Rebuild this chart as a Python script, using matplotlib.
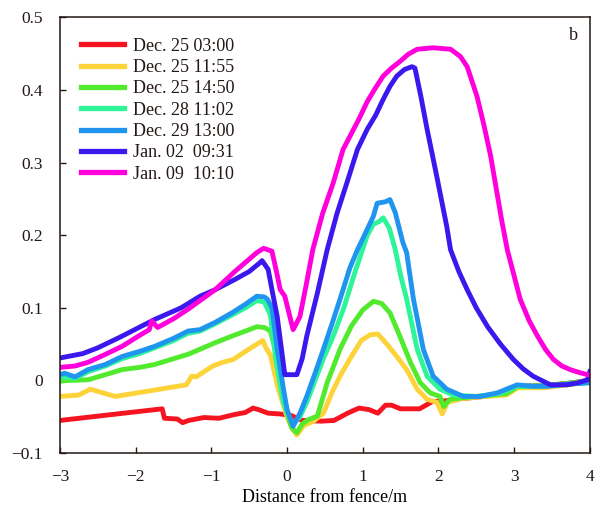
import matplotlib
matplotlib.use('Agg')
import matplotlib.pyplot as plt

plt.rcParams['font.family'] = 'serif'
plt.rcParams['font.serif'] = ['Liberation Serif', 'DejaVu Serif']
plt.rcParams['text.color'] = '#231815'

# series labels and colours
labels = ['Dec. 25 03:00', 'Dec. 25 11:55', 'Dec. 25 14:50', 'Dec. 28 11:02',
          'Dec. 29 13:00', 'Jan. 02  09:31', 'Jan. 09  10:10']
colors = ['#f51420', '#fdd33a', '#52ea2c', '#2ef59a', '#1f95f0', '#3a18ee', '#ff00dc']

# Dec. 25 03:00
x_red = [-3, -1.65, -1.62, -1.45, -1.38, -1.3, -1.1, -0.9, -0.7, -0.55, -0.45, -0.38, -0.25,
         -0.1, 0.05, 0.2, 0.45, 0.62, 0.8, 0.95, 1.08, 1.2, 1.3, 1.38, 1.5, 1.75, 1.92, 2.1,
         2.3, 2.6, 2.9, 3.05, 3.4, 3.7, 4.0]
y_red = [-0.055, -0.039, -0.052, -0.053, -0.058, -0.055, -0.051, -0.052, -0.047, -0.044,
         -0.038, -0.04, -0.045, -0.046, -0.048, -0.055, -0.056, -0.055, -0.045, -0.038, -0.04,
         -0.045, -0.034, -0.034, -0.039, -0.039, -0.029, -0.028, -0.025, -0.022, -0.017,
         -0.008, -0.007, -0.004, 0.0]

# Dec. 25 11:55
x_yel = [-3, -2.75, -2.6, -2.5, -2.27, -1.8, -1.33, -1.26, -1.2, -1.1, -0.98, -0.85, -0.71,
         -0.55, -0.4, -0.32, -0.28, -0.22, -0.12, 0.0, 0.08, 0.13, 0.22, 0.35, 0.48, 0.6, 0.72,
         0.85, 0.98, 1.1, 1.2, 1.32, 1.45, 1.58, 1.72, 1.85, 1.98, 2.05, 2.12, 2.3, 2.6, 2.9,
         3.05, 3.4, 3.7, 4.0]
y_yel = [-0.022, -0.02, -0.012, -0.015, -0.022, -0.014, -0.006, 0.006, 0.005, 0.012, 0.02,
         0.025, 0.029, 0.04, 0.05, 0.055, 0.045, 0.035, -0.01, -0.05, -0.068, -0.075, -0.062,
         -0.056, -0.045, -0.015, 0.01, 0.033, 0.055, 0.063, 0.064, 0.05, 0.033, 0.015, -0.012,
         -0.026, -0.03, -0.046, -0.03, -0.025, -0.022, -0.02, -0.01, -0.01, -0.006, -0.002]

# Dec. 25 14:50
x_grn = [-3, -2.9, -2.63, -2.4, -2.18, -1.95, -1.75, -1.5, -1.31, -1.15, -0.95, -0.73, -0.55,
         -0.4, -0.3, -0.22, -0.15, -0.09, 0.0, 0.06, 0.13, 0.2, 0.28, 0.4, 0.53, 0.7, 0.85,
         1.0, 1.14, 1.25, 1.36, 1.49, 1.63, 1.76, 1.89, 2.02, 2.07, 2.15, 2.3, 2.6, 2.9, 3.05,
         3.4, 3.7, 4.0]
y_grn = [-0.001, 0.0, 0.001, 0.008, 0.015, 0.018, 0.022, 0.03, 0.036, 0.043, 0.052, 0.061,
         0.068, 0.074, 0.073, 0.068, 0.04, -0.003, -0.045, -0.065, -0.072, -0.06, -0.054,
         -0.049, -0.003, 0.043, 0.075, 0.097, 0.109, 0.106, 0.093, 0.061, 0.025, -0.003,
         -0.017, -0.022, -0.036, -0.026, -0.024, -0.021, -0.018, -0.008, -0.007, -0.004, 0.0]

# Dec. 28 11:02
x_cyn = [-3, -2.8, -2.63, -2.4, -2.18, -1.95, -1.75, -1.5, -1.31, -1.15, -0.95, -0.73, -0.55,
         -0.4, -0.3, -0.22, -0.15, -0.05, 0.0, 0.08, 0.17, 0.26, 0.37, 0.48, 0.61, 0.75, 0.9,
         1.06, 1.14, 1.22, 1.27, 1.35, 1.43, 1.5, 1.58, 1.72, 1.85, 2.02, 2.2, 2.5, 2.8, 3.04,
         3.3, 3.6, 4.0]
y_cyn = [0.005, 0.003, 0.012, 0.02, 0.03, 0.037, 0.045, 0.055, 0.065, 0.068, 0.078, 0.09,
         0.1, 0.11, 0.108, 0.09, 0.03, -0.03, -0.045, -0.06, -0.05, -0.03, 0.0, 0.03, 0.061,
         0.1, 0.15, 0.2, 0.215, 0.219, 0.224, 0.21, 0.18, 0.145, 0.112, 0.043, 0.006, -0.012,
         -0.02, -0.022, -0.018, -0.008, -0.008, -0.006, -0.003]

# Dec. 29 13:00
x_blu = [-3, -2.94, -2.8, -2.63, -2.4, -2.18, -1.95, -1.75, -1.5, -1.31, -1.15, -0.95, -0.73,
         -0.55, -0.4, -0.3, -0.26, -0.2, -0.13, -0.05, 0.0, 0.08, 0.17, 0.26, 0.37, 0.48, 0.6,
         0.7, 0.83, 0.93, 1.0, 1.14, 1.19, 1.3, 1.36, 1.43, 1.53, 1.58, 1.67, 1.8, 1.93, 2.11,
         2.33, 2.55, 2.78, 3.04, 3.25, 3.44, 3.7, 4.0]
y_blu = [0.008, 0.01, 0.005, 0.015, 0.022, 0.033, 0.04, 0.047, 0.058, 0.068, 0.07, 0.08,
         0.093, 0.105, 0.116, 0.115, 0.112, 0.1, 0.043, -0.01, -0.04, -0.063, -0.045, -0.022,
         0.01, 0.043, 0.08, 0.112, 0.155, 0.18, 0.195, 0.226, 0.244, 0.246, 0.249, 0.231, 0.19,
         0.176, 0.112, 0.043, 0.006, -0.012, -0.022, -0.022, -0.017, -0.006, -0.008, -0.008,
         -0.005, -0.003]

# Jan. 02 09:31
x_pur = [-3, -2.7, -2.5, -2.2, -1.75, -1.4, -1.15, -0.95, -0.69, -0.5, -0.36, -0.33, -0.25,
         -0.19, -0.13, -0.07, -0.03, 0.13, 0.2, 0.26, 0.4, 0.53, 0.66, 0.79, 0.93, 1.06, 1.17,
         1.27, 1.36, 1.45, 1.55, 1.65, 1.69, 1.77, 1.85, 1.98, 2.11, 2.16, 2.27, 2.38, 2.5,
         2.65, 2.82, 2.99, 3.12, 3.25, 3.48, 3.7, 3.85, 3.97, 4.0]
y_pur = [0.031, 0.037, 0.045, 0.06, 0.084, 0.1, 0.116, 0.125, 0.139, 0.15, 0.162, 0.165,
         0.153, 0.12, 0.088, 0.04, 0.008, 0.008, 0.03, 0.061, 0.12, 0.18, 0.23, 0.272, 0.318,
         0.346, 0.365, 0.387, 0.405, 0.419, 0.428, 0.432, 0.43, 0.39, 0.346, 0.28, 0.212, 0.18,
         0.15, 0.125, 0.1, 0.074, 0.05, 0.029, 0.016, 0.006, -0.006, -0.006, -0.003, 0.001,
         0.012]

# Jan. 09 10:10
x_mag = [-3, -2.8, -2.63, -2.4, -2.18, -1.95, -1.82, -1.79, -1.71, -1.5, -1.31, -1.15, -0.95,
         -0.69, -0.5, -0.4, -0.31, -0.2, -0.14, -0.09, -0.03, 0.08, 0.17, 0.25, 0.34, 0.47,
         0.61, 0.74, 0.83, 0.95, 1.06, 1.17, 1.27, 1.38, 1.49, 1.6, 1.72, 1.93, 2.16, 2.29,
         2.38, 2.51, 2.6, 2.69, 2.84, 2.91, 3.08, 3.2, 3.31, 3.42, 3.52, 3.63, 3.74, 3.86,
         3.97, 4.0]
y_mag = [0.018, 0.02, 0.025, 0.036, 0.047, 0.062, 0.07, 0.082, 0.073, 0.085, 0.098, 0.11,
         0.125, 0.15, 0.167, 0.176, 0.182, 0.178, 0.15, 0.125, 0.116, 0.07, 0.088, 0.13, 0.18,
         0.23, 0.272, 0.318, 0.336, 0.36, 0.384, 0.403, 0.419, 0.43, 0.439, 0.449, 0.456,
         0.458, 0.456, 0.446, 0.432, 0.391, 0.352, 0.309, 0.218, 0.18, 0.112, 0.082, 0.061,
         0.042, 0.029, 0.02, 0.015, 0.011, 0.008, 0.008]

xs = [x_red, x_yel, x_grn, x_cyn, x_blu, x_pur, x_mag]
ys = [y_red, y_yel, y_grn, y_cyn, y_blu, y_pur, y_mag]

xticks = [-3, -2, -1, 0, 1, 2, 3, 4]
yticks = [-0.1, 0, 0.1, 0.2, 0.3, 0.4, 0.5]
xtick_labels = ['\u22123', '\u22122', '\u22121', '0', '1', '2', '3', '4']
ytick_labels = ['\u22120.1', '0', '0.1', '0.2', '0.3', '0.4', '0.5']

fig = plt.figure(figsize=(6, 5.08), dpi=100)
ax = fig.add_axes([0.1, 0.108, 0.883, 0.858])

for x, y, c, lab in zip(xs, ys, colors, labels):
    ax.plot(x, y, color=c, lw=3.5, label=lab, solid_joinstyle='round')

ax.set_xlim(-3, 4)
ax.set_ylim(-0.1, 0.5)
ax.set_xticks(xticks)
ax.set_xticklabels(xtick_labels)
ax.set_yticks(yticks)
ax.set_yticklabels(ytick_labels)
ax.tick_params(direction='in', length=4, width=1, labelsize=12.5, colors='#231815')
ax.tick_params(axis='y', pad=12.5)
ax.tick_params(axis='x', pad=11.5)
for s in ax.spines.values():
    s.set_color('#231815')
    s.set_linewidth(1.1)

ax.set_xlabel('Distance from fence/m', fontsize=13, labelpad=3)
ax.text(0.977, 0.978, 'b', transform=ax.transAxes, fontsize=13, ha='right', va='top')

leg = ax.legend(loc='upper left', bbox_to_anchor=(0.0387, 0.953), frameon=False,
                fontsize=13, handlelength=2.4, handletextpad=0.5, labelspacing=0.24,
                borderaxespad=0, borderpad=0)
for line in leg.get_lines():
    line.set_linewidth(3.8)

fig.savefig('out.png', dpi=100)
